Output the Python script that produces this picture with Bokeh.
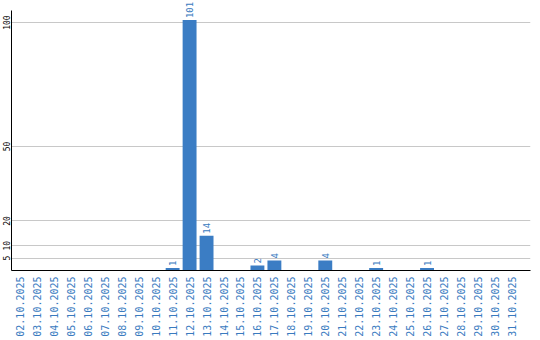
import math
from bokeh.plotting import figure
from bokeh.models import ColumnDataSource, FixedTicker, Range1d
from bokeh.core.properties import value
from bokeh.embed import file_html
from bokeh.resources import INLINE

dates = ["02.10.2025", "03.10.2025", "04.10.2025", "05.10.2025", "06.10.2025",
         "07.10.2025", "08.10.2025", "09.10.2025", "10.10.2025", "11.10.2025",
         "12.10.2025", "13.10.2025", "14.10.2025", "15.10.2025", "16.10.2025",
         "17.10.2025", "18.10.2025", "19.10.2025", "20.10.2025", "21.10.2025",
         "22.10.2025", "23.10.2025", "24.10.2025", "25.10.2025", "26.10.2025",
         "27.10.2025", "28.10.2025", "29.10.2025", "30.10.2025", "31.10.2025"]
counts = [0, 0, 0, 0, 0, 0, 0, 0, 0, 1,
          101, 14, 0, 0, 2, 4, 0, 0, 4, 0,
          0, 1, 0, 0, 1, 0, 0, 0, 0, 0]
y_ticks = [5, 10, 20, 50, 100]

BLUE = "#3b7dc4"
LABEL_BLUE = "#3a7bbf"
FONT = "DejaVu Sans Mono"

xs = list(range(len(dates)))
src = ColumnDataSource(dict(x=xs, top=counts))
nz = [i for i, c in enumerate(counts) if c > 0]
lab_src = ColumnDataSource(dict(x=[xs[i] for i in nz], y=[counts[i] for i in nz],
                                t=[str(counts[i]) for i in nz]))

p = figure(width=540, height=340, output_backend="svg", toolbar_location=None,
           x_range=Range1d(-0.5, 30.1), y_range=Range1d(0, 108.9),
           min_border_left=0, min_border_right=10, min_border_top=0,
           min_border_bottom=70)
p.outline_line_color = None
p.background_fill_color = "white"
p.border_fill_color = "white"

p.vbar(x="x", top="top", width=0.82, bottom=0, source=src,
       fill_color=BLUE, line_color=None)
p.text(x="x", y="y", text="t", source=lab_src, angle=math.pi / 2,
       text_align="left", text_baseline="middle", y_offset=-2,
       text_font=value(FONT), text_font_size="9px", text_color=LABEL_BLUE)

p.xgrid.grid_line_color = None
p.ygrid.ticker = FixedTicker(ticks=y_ticks)
p.ygrid.grid_line_color = "#c8c8c8"
p.ygrid.grid_line_width = 1

p.yaxis.ticker = FixedTicker(ticks=y_ticks)
p.yaxis.bounds = (0, 104.8)
p.yaxis.major_label_orientation = "parallel"
p.yaxis.major_label_text_font = FONT
p.yaxis.major_label_text_font_size = "8px"
p.yaxis.major_label_text_color = "black"
p.yaxis.major_tick_line_color = None
p.yaxis.minor_tick_line_color = None
p.yaxis.major_tick_out = 0
p.yaxis.major_tick_in = 0
p.yaxis.major_label_standoff = 1
p.yaxis.axis_line_color = "black"

p.xaxis.ticker = FixedTicker(ticks=xs)
p.xaxis.major_label_overrides = {i: d for i, d in enumerate(dates)}
p.xaxis.major_label_orientation = math.pi / 2
p.xaxis.major_label_text_font = FONT
p.xaxis.major_label_text_font_size = "10px"
p.xaxis.major_label_text_color = LABEL_BLUE
p.xaxis.major_tick_line_color = None
p.xaxis.minor_tick_line_color = None
p.xaxis.major_tick_out = 0
p.xaxis.major_tick_in = 0
p.xaxis.major_label_standoff = 6
p.xaxis.axis_line_color = "black"

open("out.html", "w").write(file_html(p, INLINE))
